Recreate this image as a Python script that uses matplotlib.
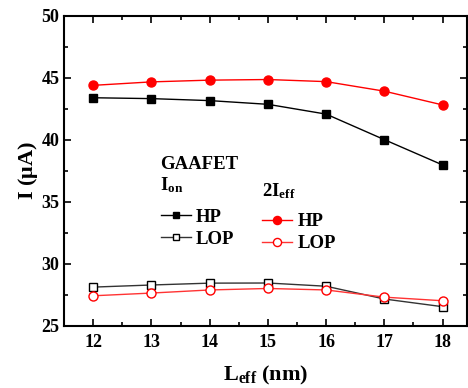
import numpy as np
import matplotlib
matplotlib.use('Agg')
import matplotlib.pyplot as plt
from matplotlib.ticker import MultipleLocator

plt.rcParams['font.family'] = 'Liberation Serif'
plt.rcParams['font.weight'] = 'bold'
plt.rcParams['mathtext.fontset'] = 'custom'
plt.rcParams['mathtext.rm'] = 'Liberation Serif:bold'
plt.rcParams['mathtext.it'] = 'Liberation Serif:bold'
plt.rcParams['mathtext.bf'] = 'Liberation Serif:bold'
plt.rcParams['xtick.direction'] = 'in'
plt.rcParams['ytick.direction'] = 'in'

leff = [12, 13, 14, 15, 16, 17, 18]
ion_hp = [43.4, 43.33, 43.17, 42.87, 42.08, 40.02, 37.98]
ion_lop = [28.13, 28.3, 28.45, 28.46, 28.2, 27.17, 26.55]
ieff_hp = [44.4, 44.68, 44.82, 44.87, 44.7, 43.93, 42.82]
ieff_lop = [27.43, 27.65, 27.9, 28.02, 27.9, 27.32, 27.03]

fig = plt.figure(figsize=(4.68, 3.88), dpi=100)
ax = fig.add_axes([0.137, 0.160, 0.861, 0.799])

l1, = ax.plot(leff, ion_hp, '-s', color='black', lw=1, ms=5.5, label='HP')
l2, = ax.plot(leff, ion_lop, '-s', color='#333333', lw=1, ms=5.5, mfc='white', mec='black', label='LOP')
l3, = ax.plot(leff, ieff_hp, '-o', color='red', lw=1, ms=6.5, label='HP')
l4, = ax.plot(leff, ieff_lop, '-o', color='#ff3333', lw=1, ms=6.5, mfc='white', mec='red', label='LOP')

ax.set_xlim(11.5, 18.42)
ax.set_ylim(25, 50)
ax.xaxis.set_major_locator(MultipleLocator(1))
ax.xaxis.set_minor_locator(MultipleLocator(0.5))
ax.yaxis.set_major_locator(MultipleLocator(5))
ax.yaxis.set_minor_locator(MultipleLocator(2.5))
ax.tick_params(which='both', top=True, right=True, labelsize=13, width=1.2)
ax.tick_params(axis='x', pad=6)
ax.tick_params(which='major', length=5)
ax.tick_params(which='minor', length=3)
for s in ax.spines.values():
    s.set_linewidth(1.5)

ax.set_xlabel(r'L$_{\rm eff}$ (nm)', fontsize=16, fontweight='bold', labelpad=9)
ax.set_ylabel(r'I ($\mu$A)', fontsize=16, fontweight='bold', labelpad=1)

fig.text(0.342, 0.577, 'GAAFET', fontsize=13.5, fontweight='bold', ha='left', va='center')
fig.text(0.342, 0.523, r'I$_{\rm on}$', fontsize=13.5, fontweight='bold', ha='left', va='center')
fig.text(0.560, 0.508, r'2I$_{\rm eff}$', fontsize=13.5, fontweight='bold', ha='left', va='center')

leg1 = fig.legend(handles=[l1, l2], loc='upper left',
                  bbox_to_anchor=(0.327, 0.481), frameon=False, fontsize=13.5,
                  handlelength=1.6, handletextpad=0.3,
                  labelspacing=0.25, borderaxespad=0, markerscale=0.9)
leg2 = fig.legend(handles=[l3, l4], loc='upper left',
                  bbox_to_anchor=(0.543, 0.470), frameon=False, fontsize=13.5,
                  handlelength=1.6, handletextpad=0.3,
                  labelspacing=0.25, borderaxespad=0, markerscale=0.9)

fig.savefig('out.png', dpi=100)
